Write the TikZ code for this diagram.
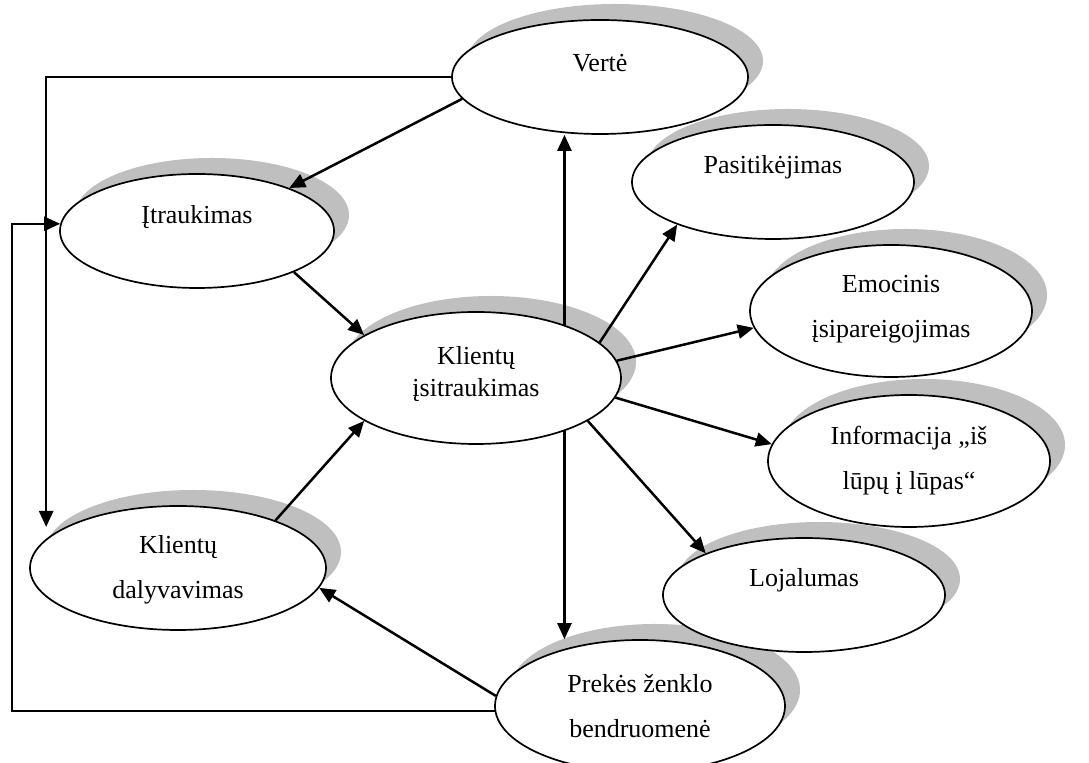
\documentclass[tikz,border=0pt]{standalone}
\usepackage{fontspec}
\setmainfont{Liberation Serif}
\usetikzlibrary{shapes.geometric,shadows,arrows.meta,calc}

\tikzset{
  bubble/.style={ellipse, draw, line width=0.85pt, fill=white, inner sep=0pt,
    drop shadow={shadow xshift=7.5pt, shadow yshift=8pt, fill=black!25, opacity=1}},
  txt/.style={font=\fontsize{13}{22.5}\selectfont, align=center},
  link/.style={line width=1.25pt, -{Triangle[length=8pt,width=7pt]}},
}

\begin{document}
\begin{tikzpicture}[x=0.5pt, y=-0.5pt]
        \useasboundingbox (0,0) rectangle (1089,763);
        % left side of the scheme
        \node[bubble, minimum width=148pt, minimum height=57pt,
            label={[txt, yshift=7pt]center:Vertė}] (verte) at (600,77) {};
        \node[bubble, minimum width=137pt, minimum height=57pt,
            label={[txt, yshift=7pt]center:Įtraukimas}] (itr) at (197,231) {};
        \node[bubble, minimum width=148pt, minimum height=62pt,
            label={[txt, yshift=-1pt]center:Klientų\\dalyvavimas}] (kd) at (178,568) {};
        % core
        \node[bubble, minimum width=145pt, minimum height=66pt,
            label={[txt, font=\fontsize{13}{16}\selectfont, yshift=2pt]center:Klientų\\įsitraukimas}] (kiz) at (476,378) {};
        % outcomes
        \node[bubble, minimum width=141pt, minimum height=57pt,
            label={[txt, yshift=7.5pt]center:Pasitikėjimas}] (pas) at (773,182) {};
        \node[bubble, minimum width=141pt, minimum height=66pt,
            label={[txt, yshift=1pt]center:Emocinis\\įsipareigojimas}] (emo) at (891,311) {};
        \node[bubble, minimum width=141pt, minimum height=66pt,
            label={[txt]center:Informacija „iš\\lūpų į lūpas“}] (inf) at (909,461) {};
        \node[bubble, minimum width=145pt, minimum height=66pt,
            label={[txt]center:Prekės ženklo\\bendruomenė}] (prek) at (640,706) {};
        \node[bubble, minimum width=141pt, minimum height=57pt,
            label={[txt, yshift=7.5pt]center:Lojalumas}] (loj) at (804,595) {};
        % arrows
        \draw[link] (verte.189) -- (itr.25);
        \draw[link] (itr.-23) -- (kiz.159);
        \draw[link] (kd.26) -- (kiz.201);
        \draw[link] (prek.176) -- (kd.-8);
        \draw[link] (kiz.31) -- (kiz.31 |- verte.south);
        \draw[link] (kiz.-31) -- (kiz.-31 |- prek.north);
        \draw[link] (kiz.16) -- (pas.204);
        \draw[link] (kiz.7) -- (emo.187);
        \draw[link] (kiz.-8) -- (inf.173);
        \draw[link] (kiz.-21) -- (loj.157);
        % feedback lines
        \draw[link] (verte.west) -| ([shift={(17,-41)}]kd.west);
        \draw[link] (prek.-178) -| ([xshift=-24pt]itr.177) -- (itr.177);
\end{tikzpicture}
\end{document}
